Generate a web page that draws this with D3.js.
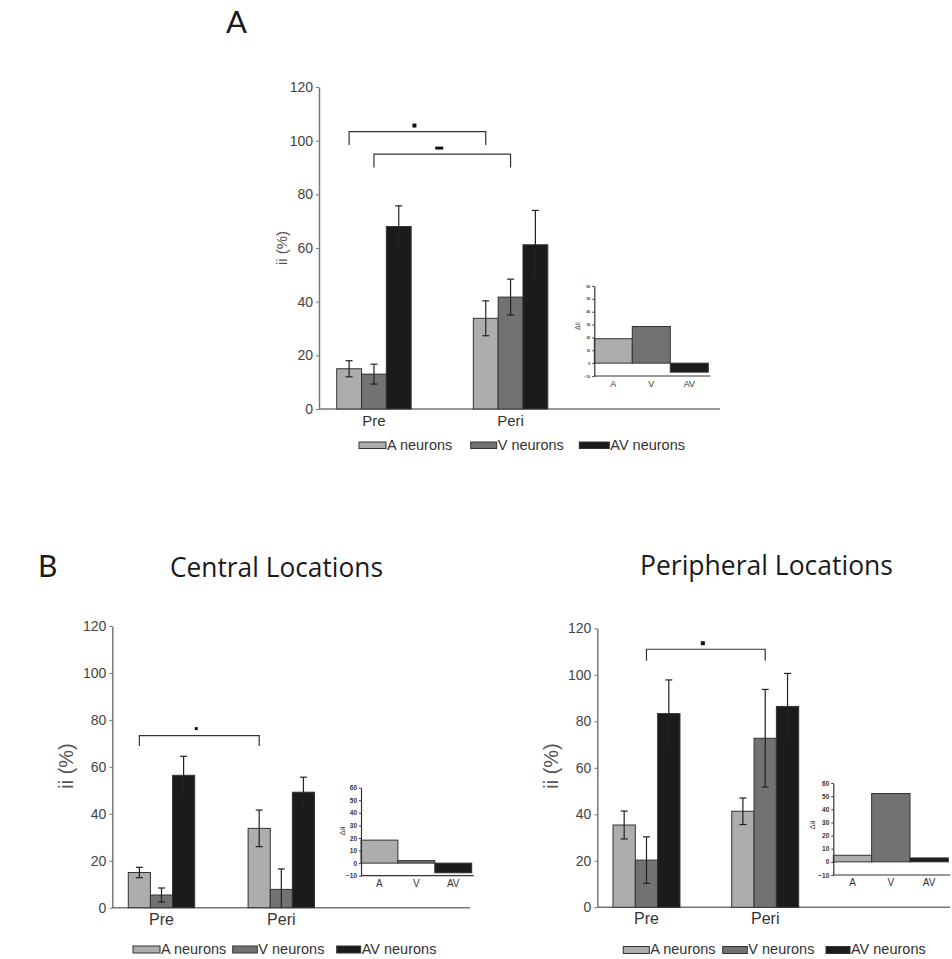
<!DOCTYPE html>
<html><head><meta charset="utf-8">
<script src="https://cdn.jsdelivr.net/npm/d3@7"></script>
<style>body{margin:0;background:#fff}</style>
</head><body><div id="chart"></div>
<script>
// ---------- data ----------
const groups = ["Pre", "Peri"];
const series = ["A neurons", "V neurons", "AV neurons"];
const insetCategories = ["A", "V", "AV"];
const yTicks = [0, 20, 40, 60, 80, 100, 120];
const insetTicks = [-10, 0, 10, 20, 30, 40, 50, 60];
const panelTitles = ["Central Locations", "Peripheral Locations"];
const panelLetters = ["A", "B"];

// panel A (all locations): rows = groups, columns = series
const allValues = [[15, 13, 68], [33.8, 41.7, 61.2]];
const allErrors = [[3, 3.7, 7.7], [6.5, 6.7, 12.8]];
const allDelta = [19, 28.5, -7];
const allBrackets = [
  {from: ["Pre", "A neurons"], to: ["Peri", "A neurons"], top: 103.4, drop: 98.4},
  {from: ["Pre", "V neurons"], to: ["Peri", "V neurons"], top: 95, drop: 90}
];

// panel B central
const centralValues = [[15, 5.4, 56.4], [33.8, 7.8, 49.2]];
const centralErrors = [[2.2, 3, 8.1], [7.8, 8.7, 6.4]];
const centralDelta = [18.3, 2, -7.7];
const centralBrackets = [
  {from: ["Pre", "A neurons"], to: ["Peri", "A neurons"], top: 73.3, drop: 68.9}
];

// panel B peripheral
const periValues = [[35.4, 20.3, 83.3], [41.3, 72.7, 86.4]];
const periErrors = [[6, 10, 14.5], [5.7, 21, 14.2]];
const periDelta = [5, 52, 3];
const periBrackets = [
  {from: ["Pre", "V neurons"], to: ["Peri", "V neurons"], top: 111, drop: 106}
];

// ---------- styles / layout ----------
const colors = {"A neurons": "#adadad", "V neurons": "#727272", "AV neurons": "#1b1b1b"};
const insetColors = {"A": "#adadad", "V": "#727272", "AV": "#1b1b1b"};
const FONT = "'Liberation Sans', Arial, sans-serif";
const TITLE_FONT = "'Open Sans', 'Noto Sans', sans-serif";

const W = 952, H = 959;
const svg = d3.select("#chart").append("svg").attr("width", W).attr("height", H)
  .style("font-family", FONT);

function drawPanel(vals, errs, delta, brackets, L) {
  const g = svg.append("g");
  const x = d3.scaleBand().domain(groups).range(L.xr).paddingInner(L.pad).paddingOuter(0);
  const xs = d3.scaleBand().domain(series).range([0, x.bandwidth()]);
  const y = d3.scaleLinear().domain([0, 120]).range(L.yr);

  // y axis
  const ya = g.append("g").attr("transform", `translate(${L.axisX[0]},0)`)
    .call(d3.axisLeft(y).tickValues(yTicks).tickSize(3).tickSizeOuter(0).tickPadding(3));
  ya.select(".domain").attr("stroke", "#777").attr("stroke-width", 1.5);
  ya.selectAll(".tick line").attr("stroke", "#777");
  ya.selectAll(".tick text").attr("fill", "#444").style("font-size", L.tickFs + "px")
    .style("font-family", FONT);

  // x axis line
  g.append("line").attr("x1", L.axisX[0]).attr("x2", L.axisX[1])
    .attr("y1", y(0)).attr("y2", y(0)).attr("stroke", "#777").attr("stroke-width", 1.5);

  // bars
  groups.forEach((grp, gi) => {
    series.forEach((s, si) => {
      const v = vals[gi][si], e = errs[gi][si];
      const bx = x(grp) + xs(s);
      g.append("rect").attr("x", bx).attr("y", y(v))
        .attr("width", xs.bandwidth()).attr("height", y(0) - y(v))
        .attr("fill", colors[s]).attr("stroke", "#333").attr("stroke-width", 1);
      const cx = bx + xs.bandwidth() / 2;
      const lo = Math.max(0, v - e), hi = v + e;
      g.append("line").attr("x1", cx).attr("x2", cx).attr("y1", y(lo)).attr("y2", y(hi))
        .attr("stroke", "#222").attr("stroke-width", 1.2);
      [hi, v - e].forEach(t => {
        if (t < 0) return;
        g.append("line").attr("x1", cx - 3.5).attr("x2", cx + 3.5).attr("y1", y(t)).attr("y2", y(t))
          .attr("stroke", "#222").attr("stroke-width", 1.2);
      });
    });
    g.append("text").attr("x", x(grp) + xs("V neurons") + xs.bandwidth() / 2)
      .attr("y", y(0) + L.labelDy).attr("text-anchor", "middle")
      .style("font-size", L.groupFs + "px").attr("fill", "#333").text(grp);
  });

  // y axis label
  g.append("text").attr("transform", `translate(${L.ylab[0]},${L.ylab[1]}) rotate(-90)`)
    .attr("text-anchor", "middle").style("font-size", L.ylabFs + "px").attr("fill", "#555")
    .text("ii (%)");

  // significance brackets
  brackets.forEach((b, bi) => {
    const x1 = x(b.from[0]) + xs(b.from[1]) + xs.bandwidth() / 2;
    const x2 = x(b.to[0]) + xs(b.to[1]) + xs.bandwidth() / 2;
    g.append("path")
      .attr("d", `M${x1},${y(b.drop)}V${y(b.top)}H${x2}V${y(b.drop)}`)
      .attr("fill", "none").attr("stroke", "#333").attr("stroke-width", 1.2);
    const m = L.marks[bi];
    g.append("rect").attr("x", (x1 + x2) / 2 + m.dx - m.w / 2).attr("y", y(b.top) - m.dy - m.h / 2)
      .attr("width", m.w).attr("height", m.h).attr("fill", "#111");
  });

  // inset
  const I = L.inset;
  const xi = d3.scaleBand().domain(insetCategories).range(I.xr);
  const yi = d3.scaleLinear().domain([-10, 60]).range(I.yr);
  insetCategories.forEach((c, ci) => {
    const v = delta[ci];
    g.append("rect").attr("x", xi(c)).attr("y", yi(Math.max(0, v)))
      .attr("width", xi.bandwidth()).attr("height", Math.abs(yi(v) - yi(0)))
      .attr("fill", insetColors[c]).attr("stroke", "#333").attr("stroke-width", 1);
    g.append("text").attr("x", xi(c) + xi.bandwidth() / 2).attr("y", yi(-10) + I.labDy)
      .attr("text-anchor", "middle").style("font-size", I.labFs + "px").attr("fill", "#333").text(c);
  });
  const yia = g.append("g").attr("transform", `translate(${I.xr[0]},0)`)
    .call(d3.axisLeft(yi).tickValues(insetTicks).tickSize(2).tickSizeOuter(0).tickPadding(2));
  yia.select(".domain").attr("stroke", "#333").attr("stroke-width", 1.2);
  yia.selectAll(".tick line").attr("stroke", "#333");
  yia.selectAll(".tick text").style("font-size", I.tickFs + "px").style("font-family", FONT)
    .style("font-weight", "bold").attr("fill", "#333");
  g.append("line").attr("x1", I.xr[0]).attr("x2", I.xr[1] + 2).attr("y1", yi(-10)).attr("y2", yi(-10))
    .attr("stroke", "#333").attr("stroke-width", 1.2);
  g.append("text").attr("transform", `translate(${I.ylab[0]},${I.ylab[1]}) rotate(-90)`)
    .attr("text-anchor", "middle").style("font-size", I.ylabFs + "px").attr("fill", "#333")
    .text("Δii");

  // legend
  series.forEach((s, si) => {
    const lx = L.legend.x[si], lw = L.legend.w[si];
    g.append("rect").attr("x", lx).attr("y", L.legend.y).attr("width", lw).attr("height", L.legend.h)
      .attr("fill", colors[s]).attr("stroke", "#333").attr("stroke-width", 1);
    g.append("text").attr("x", lx + lw + 1).attr("y", L.legend.base)
      .style("font-size", L.legend.fs + "px").attr("fill", "#333").text(s);
  });
}

drawPanel(allValues, allErrors, allDelta, allBrackets, {
  xr: [336.7, 547.8], pad: 0.455, axisX: [319, 720], yr: [409, 87],
  tickFs: 14, groupFs: 15, labelDy: 17, ylab: [287, 248], ylabFs: 15,
  marks: [{dx: -3, dy: 6, w: 4, h: 4}, {dx: -3, dy: 6, w: 8, h: 3}],
  inset: {xr: [594.3, 708.3], yr: [376, 286], labDy: 11, labFs: 9, tickFs: 3.5, ylab: [580, 326], ylabFs: 7},
  legend: {x: [359, 470.7, 579.3], w: [27, 26, 30], y: 442, h: 6.5, base: 449.5, fs: 14.5}
});

drawPanel(centralValues, centralErrors, centralDelta, centralBrackets, {
  xr: [128.3, 314.5], pad: 0.446, axisX: [112.3, 470], yr: [907.7, 626],
  tickFs: 14, groupFs: 16, labelDy: 17, ylab: [73, 766], ylabFs: 20,
  marks: [{dx: -3, dy: 7, w: 3, h: 3}],
  inset: {xr: [361, 471.7], yr: [875.7, 787.7], labDy: 11, labFs: 10, tickFs: 6.5, ylab: [345, 831], ylabFs: 8},
  legend: {x: [133, 232.7, 336.7], w: [27, 24.6, 24], y: 946, h: 7, base: 954, fs: 14.5}
});

drawPanel(periValues, periErrors, periDelta, periBrackets, {
  xr: [613, 798.7], pad: 0.436, axisX: [597.3, 950], yr: [907.3, 628.3],
  tickFs: 14, groupFs: 16, labelDy: 17, ylab: [558, 766], ylabFs: 20,
  marks: [{dx: -3, dy: 6, w: 4, h: 4}],
  inset: {xr: [833.3, 948.3], yr: [875, 783], labDy: 11, labFs: 10, tickFs: 6.5, ylab: [815, 825], ylabFs: 8},
  legend: {x: [623.3, 722.7, 826], w: [26, 24.6, 24], y: 946.5, h: 7, base: 954, fs: 14.5}
});

// titles
function title(txt, x1, x2, base, fs) {
  svg.append("text").attr("x", x1).attr("y", base).style("font-family", TITLE_FONT)
    .style("font-size", fs + "px").attr("fill", "#1a1a1a")
    .attr("textLength", x2 - x1).attr("lengthAdjust", "spacingAndGlyphs").text(txt);
}
title(panelTitles[0], 170, 383, 577, 27);
title(panelTitles[1], 640, 893, 575, 27);
svg.append("text").attr("x", 226).attr("y", 33).style("font-family", "Lato, 'Open Sans', sans-serif")
  .style("font-size", "31px").attr("fill", "#1a1a1a").text(panelLetters[0]);
svg.append("text").attr("x", 38).attr("y", 577).style("font-family", "Lato, 'Open Sans', sans-serif")
  .style("font-size", "30px").attr("fill", "#1a1a1a").text(panelLetters[1]);
</script>
</body></html>
